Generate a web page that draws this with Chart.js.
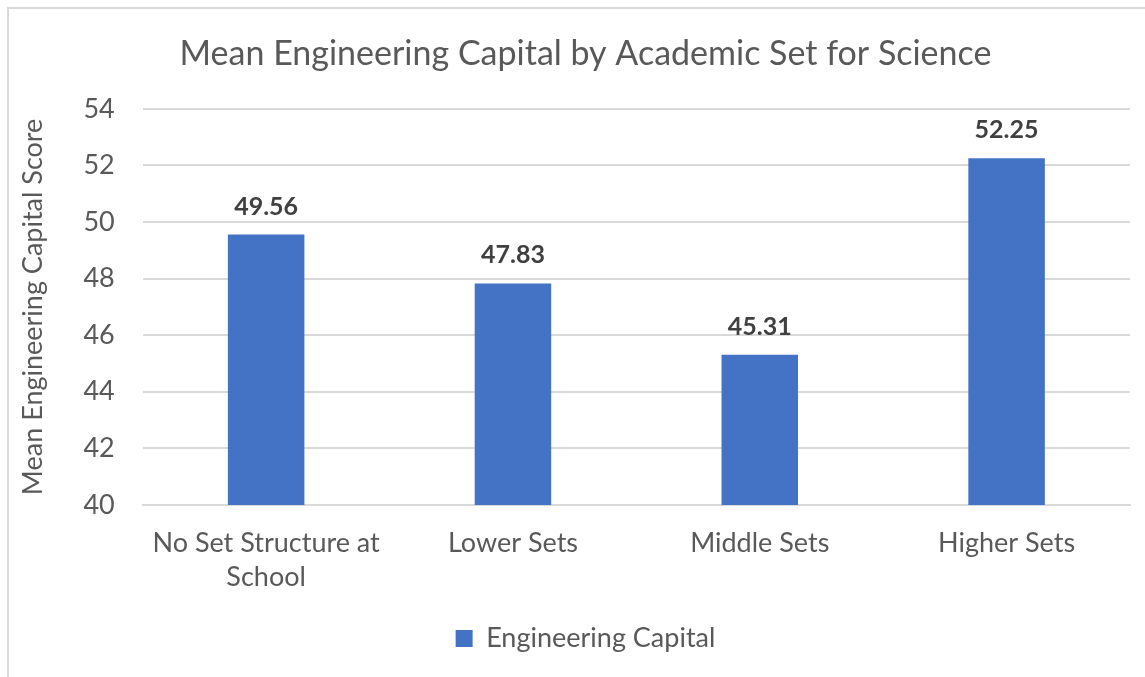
<!DOCTYPE html>
<html>
<head>
<meta charset="utf-8">
<script src="https://cdn.jsdelivr.net/npm/chart.js@4.4.1/dist/chart.umd.min.js"></script>
<style>
  html, body { margin: 0; padding: 0; background: #fff; overflow: hidden; width: 1145px; height: 677px; }
  #frame { position: absolute; left: 7px; top: 7px; width: 1200px; height: 700px; border-top: 2px solid #d9d9d9; border-left: 2px solid #d9d9d9; box-sizing: border-box; }
  #wrap { position: absolute; left: 8px; top: 8px; width: 1155px; height: 680px; }
</style>
</head>
<body>
<div id="frame"></div>
<div id="wrap"><canvas id="c"></canvas></div>
<script>
const categories = [['No Set Structure at', 'School'], 'Lower Sets', 'Middle Sets', 'Higher Sets'];
const seriesName = 'Engineering Capital';
const values = [49.56, 47.83, 45.31, 52.25];
const yTicks = [40, 42, 44, 46, 48, 50, 52, 54];
const chartTitle = 'Mean Engineering Capital by Academic Set for Science';
const yAxisTitle = 'Mean Engineering Capital Score';

const FONT = 'Lato, "Open Sans", sans-serif';
const TXT = '#595959';

const dataLabels = {
  id: 'dataLabels',
  afterDatasetsDraw(chart) {
    const ctx = chart.ctx;
    const meta = chart.getDatasetMeta(0);
    ctx.save();
    ctx.font = 'bold 25px ' + FONT;
    ctx.fillStyle = '#404040';
    ctx.textAlign = 'center';
    ctx.textBaseline = 'middle';
    meta.data.forEach((bar, i) => {
      ctx.fillText(values[i].toFixed(2), bar.x, bar.y - 28);
    });
    ctx.restore();
  }
};

new Chart(document.getElementById('c'), {
  type: 'bar',
  data: {
    labels: categories,
    datasets: [{
      label: seriesName,
      data: values,
      backgroundColor: '#4472C4',
      borderWidth: 0,
      barPercentage: 0.31,
      categoryPercentage: 1.0
    }]
  },
  options: {
    responsive: true,
    maintainAspectRatio: false,
    animation: false,
    layout: { padding: { left: 33, right: 33, top: 14, bottom: 26 } },
    plugins: {
      title: {
        display: true,
        text: chartTitle,
        color: TXT,
        font: { family: FONT, size: 34, weight: 'normal' },
        padding: { top: 12, bottom: 34 }
      },
      legend: {
        display: true,
        position: 'bottom',
        labels: {
          color: TXT,
          font: { family: FONT, size: 27 },
          boxWidth: 17,
          boxHeight: 17,
          padding: 10
        }
      },
      tooltip: { enabled: false }
    },
    scales: {
      x: {
        grid: { display: false, drawTicks: false },
        border: { display: true, color: '#d9d9d9', width: 2 },
        ticks: { color: TXT, font: { family: FONT, size: 27, lineHeight: 1.26 }, padding: 21, maxRotation: 0, autoSkip: false }
      },
      y: {
        min: 40,
        max: 54,
        afterBuildTicks(axis) { axis.ticks = yTicks.map(v => ({ value: v })); },
        grid: { color: '#d9d9d9', lineWidth: 2, drawTicks: false },
        border: { display: false },
        ticks: { color: TXT, font: { family: FONT, size: 27 }, padding: 28 },
        title: {
          display: true,
          text: yAxisTitle,
          color: TXT,
          font: { family: FONT, size: 27 },
          padding: { top: -24, bottom: 6 }
        }
      }
    }
  },
  plugins: [dataLabels]
});
</script>
</body>
</html>
